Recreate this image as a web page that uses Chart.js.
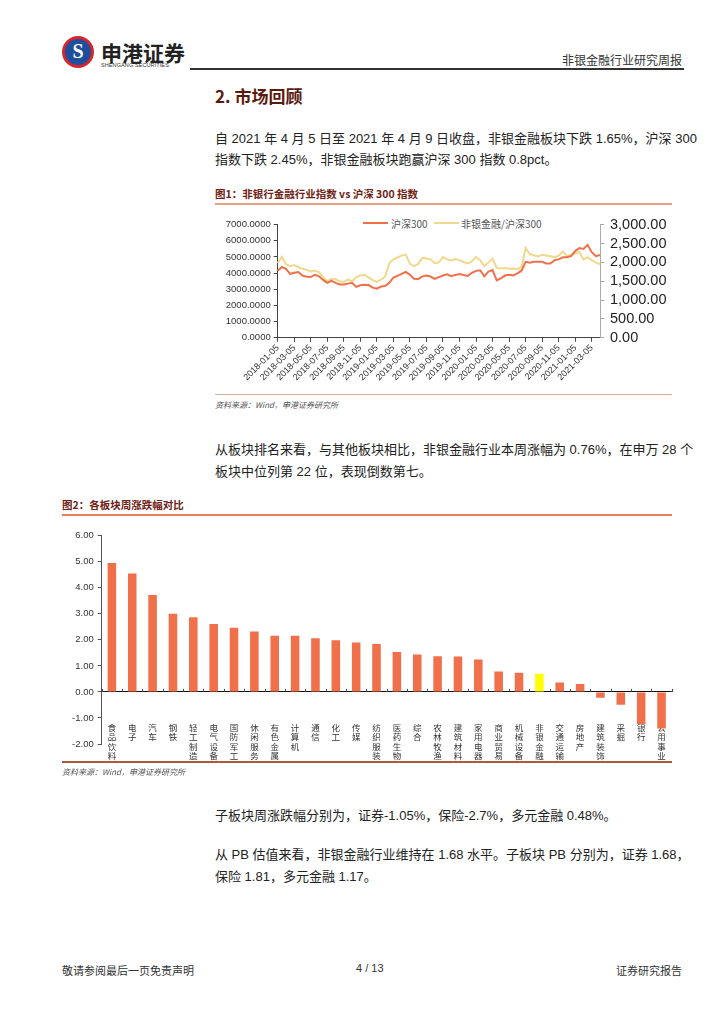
<!DOCTYPE html>
<html>
<head>
<meta charset="utf-8">
<script src="https://cdn.jsdelivr.net/npm/chart.js@4.4.1/dist/chart.umd.min.js"></script>
<style>
  body { margin: 0; background: #fff; font-family: "Liberation Sans", "Noto Sans CJK SC", sans-serif; color: #222; }
  .page { position: relative; width: 724px; height: 1024px; overflow: hidden; }
  .abs { position: absolute; white-space: nowrap; }
  .logo { left: 62px; top: 36px; width: 26px; height: 26px; border-radius: 50%; border: 3px solid #d7262b; background: #1d4f9c; }
  .logo span { position: absolute; left: 0; top: 1px; width: 26px; text-align: center; color: #fff; font: bold 20px "Liberation Serif"; }
  .brand { left: 101px; top: 37px; font: bold 21px "Noto Sans CJK SC"; color: #222; letter-spacing: 0px; }
  .brand-en { left: 101px; top: 62px; font: 5.5px "Liberation Sans"; color: #333; letter-spacing: 0.1px; }
  .hline { height: 1px; background: #333; }
  .doc { right: 42px; top: 51px; font: 12px "Noto Sans CJK SC"; color: #333; }
  .h2 { left: 215px; top: 83px; font: bold 17px "Noto Sans CJK SC"; color: #5b1a0e; }
  .p { left: 215px; width: 466px; font-size: 13px; color: #222; line-height: 21px; }
  .just { text-align: justify; text-align-last: justify; }
  .ftitle { font: bold 10.5px "Noto Sans CJK SC"; color: #6e2215; }
  .src { font: italic 8px "Noto Sans CJK SC"; color: #555; }
  .legend { font: 10px "Noto Sans CJK SC"; color: #555; }
  .foot { top: 962px; font: 11px "Noto Sans CJK SC"; color: #333; }
</style>
</head>
<body>
<div class="page">
  <div class="abs logo"><span>S</span></div>
  <div class="abs brand">申港证券</div>
  <div class="abs brand-en">SHENGANG SECURITIES</div>
  <div class="abs hline" style="left:190px; top:68px; width:494px; height:1.5px;"></div>
  <div class="abs doc">非银金融行业研究周报</div>

  <div class="abs h2">2. 市场回顾</div>
  <div class="abs p just" style="top:128px;">自 2021 年 4 月 5 日至 2021 年 4 月 9 日收盘，非银金融板块下跌 1.65%，沪深 300</div>
  <div class="abs p" style="top:149px;">指数下跌 2.45%，非银金融板块跑赢沪深 300 指数 0.8pct。</div>

  <div class="abs ftitle" style="left:215px; top:186px;">图1：非银行金融行业指数 vs 沪深 300 指数</div>
  <div class="abs" style="left:215px; top:203px; width:457px; height:1.5px; background:#e4a18c;"></div>
  <div class="abs" style="left:363px; top:222px; width:25px; height:2px; background:#f0704a;"></div>
  <div class="abs legend" style="left:391px; top:216px;">沪深300</div>
  <div class="abs" style="left:434px; top:222px; width:25px; height:2px; background:#f0d98c;"></div>
  <div class="abs legend" style="left:461px; top:216px;">非银金融/沪深300</div>
  <div class="abs" style="left:200px; top:210px; width:480px; height:180px;"><canvas id="c1"></canvas></div>
  <div class="abs" style="left:215px; top:394px; width:457px; height:1px; background:#d8b0a0;"></div>
  <div class="abs src" style="left:215px; top:399px;">资料来源：Wind，申港证券研究所</div>

  <div class="abs p just" style="top:439px;">从板块排名来看，与其他板块相比，非银金融行业本周涨幅为 0.76%，在申万 28 个</div>
  <div class="abs p" style="top:461px;">板块中位列第 22 位，表现倒数第七。</div>

  <div class="abs ftitle" style="left:62px; top:497px;">图2：各板块周涨跌幅对比</div>
  <div class="abs" style="left:62px; top:514px; width:610px; height:1.5px; background:#e8805f;"></div>
  <div class="abs" style="left:40px; top:520px; width:650px; height:260px;"><canvas id="c2"></canvas></div>
  <div class="abs" style="left:62px; top:761px; width:610px; height:1.5px; background:#b0583a;"></div>
  <div class="abs src" style="left:62px; top:766px;">资料来源：Wind，申港证券研究所</div>

  <div class="abs p" style="top:805px;">子板块周涨跌幅分别为，证券-1.05%，保险-2.7%，多元金融 0.48%。</div>
  <div class="abs p just" style="top:844px;">从 PB 估值来看，非银金融行业维持在 1.68 水平。子板块 PB 分别为，证券 1.68，</div>
  <div class="abs p" style="top:866px;">保险 1.81，多元金融 1.17。</div>

  <div class="abs foot" style="left:62px;">敬请参阅最后一页免责声明</div>
  <div class="abs foot" style="left:356px; font-family:'Liberation Sans';">4 / 13</div>
  <div class="abs foot" style="right:42px;">证券研究报告</div>
</div>

<script>
// 图1: half-monthly samples
const dates = [
  '2018-01-05','2018-01-20','2018-02-05','2018-02-20','2018-03-05','2018-03-20','2018-04-05','2018-04-20',
  '2018-05-05','2018-05-20','2018-06-05','2018-06-20','2018-07-05','2018-07-20','2018-08-05','2018-08-20',
  '2018-09-05','2018-09-20','2018-10-05','2018-10-20','2018-11-05','2018-11-20','2018-12-05','2018-12-20',
  '2019-01-05','2019-01-20','2019-02-05','2019-02-20','2019-03-05','2019-03-20','2019-04-05','2019-04-20',
  '2019-05-05','2019-05-20','2019-06-05','2019-06-20','2019-07-05','2019-07-20','2019-08-05','2019-08-20',
  '2019-09-05','2019-09-20','2019-10-05','2019-10-20','2019-11-05','2019-11-20','2019-12-05','2019-12-20',
  '2020-01-05','2020-01-20','2020-02-05','2020-02-20','2020-03-05','2020-03-20','2020-04-05','2020-04-20',
  '2020-05-05','2020-05-20','2020-06-05','2020-06-20','2020-07-05','2020-07-20','2020-08-05','2020-08-20',
  '2020-09-05','2020-09-20','2020-10-05','2020-10-20','2020-11-05','2020-11-20','2020-12-05','2020-12-20',
  '2021-01-05','2021-01-20','2021-02-05','2021-02-20','2021-03-05','2021-03-20','2021-04-05'
];
const hs300 = [
  4140, 4380, 4270, 3950, 4020, 4070, 3850, 3780, 3760, 3900, 3800, 3580, 3400, 3520, 3400, 3300,
  3300, 3350, 3400, 3150, 3250, 3280, 3260, 3100, 3035, 3170, 3200, 3400, 3720, 3830, 3950, 4080,
  3900, 3650, 3630, 3800, 3850, 3790, 3650, 3750, 3850, 3930, 3810, 3890, 3950, 3880, 3830, 4020,
  4140, 4180, 3800, 4100, 4190, 3550, 3680, 3850, 3900, 3860, 3980, 4150, 4700, 4650, 4700, 4700,
  4700, 4600, 4590, 4800, 4850, 4980, 4990, 5050, 5370, 5550, 5500, 5750, 5300, 5050, 5120
];
const ratio = [
  1980, 2150, 1950, 1900, 1930, 1870, 1830, 1800, 1760, 1780, 1740, 1600, 1500, 1560, 1550, 1500,
  1480, 1540, 1500, 1600, 1650, 1670, 1600, 1530, 1480, 1540, 1620, 1980, 2080, 2130, 2180, 2210,
  1960, 1900, 1960, 2120, 2100, 2080, 1980, 2000, 2140, 2080, 2050, 2090, 2060, 2010, 1970, 2030,
  2140, 2060, 1900, 2000, 2100, 1850, 1840, 1850, 1830, 1840, 1820, 1880, 2380, 2220, 2190, 2160,
  2200, 2180, 2160, 2140, 2180, 2290, 2170, 2200, 2240, 2270, 2080, 2140, 2060, 2000, 1950
];
const leftTicks = { min: 0, max: 7000, step: 1000 };
const rightTicks = { min: 0, max: 3000, step: 500 };

// 图2
const sectors = ['食品饮料','电子','汽车','钢铁','轻工制造','电气设备','国防军工','休闲服务','有色金属','计算机',
  '通信','化工','传媒','纺织服装','医药生物','综合','农林牧渔','建筑材料','家用电器','商业贸易',
  '机械设备','非银金融','交通运输','房地产','建筑装饰','采掘','银行','公用事业'];
const weekChg = [4.95, 4.55, 3.72, 3.00, 2.87, 2.61, 2.46, 2.32, 2.16, 2.16,
  2.06, 1.98, 1.90, 1.84, 1.53, 1.44, 1.37, 1.36, 1.25, 0.78,
  0.74, 0.70, 0.36, 0.30, -0.22, -0.49, -1.23, -1.40];
const highlight = '非银金融';

const ORANGE = '#ef704a';
const SAND = '#f0d98c';

new Chart(document.getElementById('c1'), {
  type: 'line',
  data: {
    labels: dates,
    datasets: [
      { label: '沪深300', data: hs300, yAxisID: 'y', borderColor: '#f0704a', borderWidth: 2, pointRadius: 0, tension: 0 },
      { label: '非银金融/沪深300', data: ratio, yAxisID: 'y2', borderColor: SAND, borderWidth: 2, pointRadius: 0, tension: 0 }
    ]
  },
  options: {
    responsive: true,
    maintainAspectRatio: false,
    animation: false,
    layout: { padding: { top: 11.5, right: 0, left: 0, bottom: 0 } },
    plugins: { legend: { display: false }, tooltip: { enabled: false } },
    scales: {
      x: {
        grid: {
          drawOnChartArea: false, tickLength: 4,
          color: ctx => (ctx.index % 4 === 0 ? '#444' : 'rgba(0,0,0,0)')
        },
        border: { color: '#444' },
        ticks: {
          autoSkip: false, minRotation: 45, maxRotation: 45, padding: 1,
          color: '#333', font: { family: 'Liberation Sans', size: 9 },
          callback: (v, i) => (i % 4 === 0 ? dates[i] : '')
        },
        afterFit: s => { s.height = 52.3; }
      },
      y: {
        position: 'left', min: leftTicks.min, max: leftTicks.max,
        grid: { drawOnChartArea: false, tickLength: 4, color: '#444' },
        border: { color: '#444' },
        ticks: {
          stepSize: leftTicks.step, padding: 3, color: '#333',
          font: { family: 'Liberation Sans', size: 9.5 },
          callback: v => v.toFixed(4)
        },
        afterFit: s => { s.width = 77.7; }
      },
      y2: {
        position: 'right', min: rightTicks.min, max: rightTicks.max,
        grid: { drawOnChartArea: false, tickLength: 4, color: '#aaa' },
        border: { color: '#aaa' },
        ticks: {
          stepSize: rightTicks.step, padding: 6, color: '#222', autoSkip: false,
          font: { family: 'Liberation Sans', size: 14.5 },
          callback: v => v.toLocaleString('en-US', { minimumFractionDigits: 2, maximumFractionDigits: 2 })
        },
        afterFit: s => { s.width = 80; }
      }
    }
  }
});

// small tick marks on the zero line at category boundaries
const zeroTicks = {
  id: 'zeroTicks',
  afterDatasetsDraw(chart) {
    const { ctx, scales: { x, y } } = chart;
    const y0 = y.getPixelForValue(0);
    ctx.save();
    ctx.strokeStyle = '#444';
    ctx.lineWidth = 1;
    for (let i = 0; i <= sectors.length; i++) {
      const px = Math.round(x.getPixelForValue(i - 0.5)) + 0.5;
      ctx.beginPath();
      ctx.moveTo(px, y0);
      ctx.lineTo(px, y0 - 3);
      ctx.stroke();
    }
    ctx.restore();
  }
};

new Chart(document.getElementById('c2'), {
  type: 'bar',
  data: {
    labels: sectors.map(s => s.split('')),
    datasets: [{
      data: weekChg,
      backgroundColor: sectors.map(s => (s === highlight ? '#ffff00' : ORANGE)),
      barPercentage: 0.42,
      categoryPercentage: 1
    }]
  },
  options: {
    responsive: true,
    maintainAspectRatio: false,
    animation: false,
    layout: { padding: { top: 15.7, right: 18.3, left: 0, bottom: 0 } },
    plugins: { legend: { display: false }, tooltip: { enabled: false } },
    scales: {
      x: {
        grid: { display: false, drawTicks: false },
        border: { display: false },
        ticks: {
          autoSkip: false, maxRotation: 0, minRotation: 0, mirror: true, padding: 11.6,
          color: '#333', font: { family: 'Noto Sans CJK SC', size: 8.5, lineHeight: 1.1 }
        },
        afterFit: s => { s.height = 36; }
      },
      y: {
        min: -2, max: 6,
        grid: {
          tickLength: 4,
          color: ctx => (ctx.tick && ctx.tick.value === 0 ? '#111' : 'rgba(0,0,0,0)'),
          tickColor: '#555'
        },
        border: { color: '#555' },
        ticks: {
          stepSize: 1, padding: 4, color: '#333',
          font: { family: 'Liberation Sans', size: 9.5 },
          callback: v => v.toFixed(2)
        },
        afterFit: s => { s.width = 61.7; }
      }
    }
  },
  plugins: [zeroTicks]
});
</script>
</body>
</html>
